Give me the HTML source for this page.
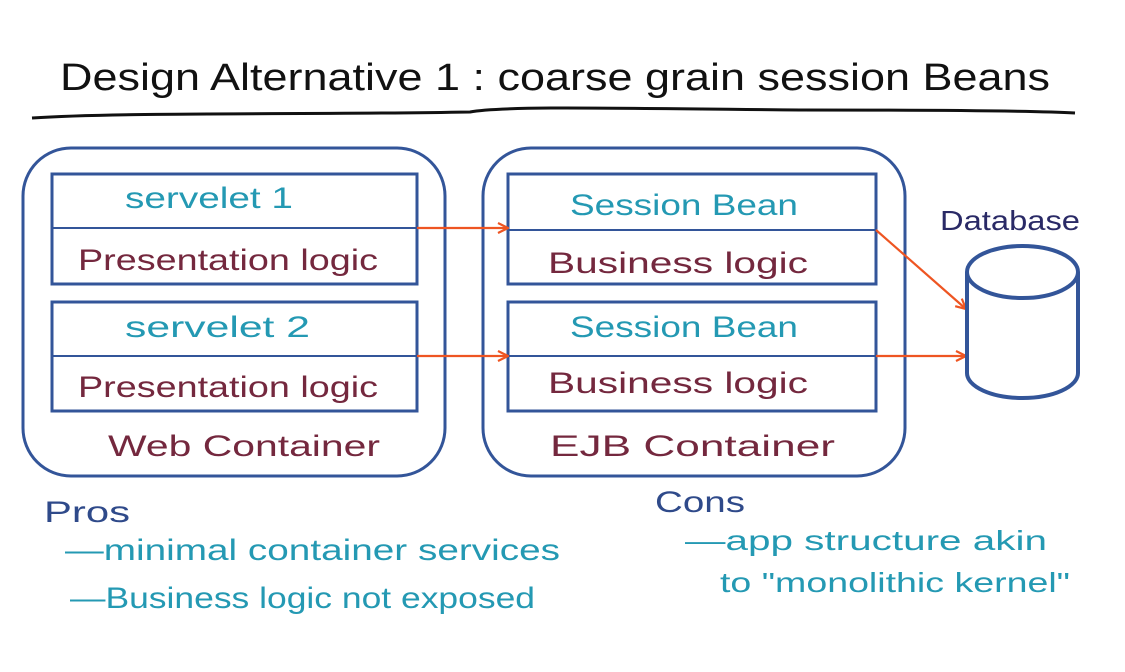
<!DOCTYPE html>
<html><head><meta charset="utf-8"><style>
html,body{margin:0;padding:0;background:#fff;}
svg{display:block;}
text{font-family:"Liberation Sans",sans-serif;}
</style></head><body>
<svg width="1125" height="672" viewBox="0 0 1125 672" xmlns="http://www.w3.org/2000/svg">
<defs>
<marker id="ah" viewBox="0 0 12 12" refX="11" refY="6" markerWidth="12" markerHeight="12" markerUnits="userSpaceOnUse" orient="auto">
<path d="M1,1 L11,6 L1,11" fill="none" stroke="#ee5522" stroke-width="2.2"/>
</marker>
</defs>
<!-- title -->
<text x="60" y="90" font-size="38" fill="#111" textLength="990" lengthAdjust="spacingAndGlyphs">Design Alternative 1 : coarse grain session Beans</text>
<path d="M32,118 C120,112 300,115 470,112 C500,106 600,108 800,110 C950,110 1040,111 1075,113" fill="none" stroke="#111" stroke-width="3"/>

<!-- web container -->
<rect x="23" y="148" width="422" height="328" rx="48" fill="none" stroke="#335599" stroke-width="3"/>
<rect x="52" y="174" width="365" height="110" fill="none" stroke="#335599" stroke-width="3"/>
<line x1="52" y1="228" x2="417" y2="228" stroke="#335599" stroke-width="2"/>
<rect x="52" y="302" width="365" height="109" fill="none" stroke="#335599" stroke-width="3"/>
<line x1="52" y1="356" x2="417" y2="356" stroke="#335599" stroke-width="2"/>
<text x="125" y="208" font-size="30" fill="#2499b3" textLength="168" lengthAdjust="spacingAndGlyphs">servelet 1</text>
<text x="78" y="270" font-size="30" fill="#74283e" textLength="300" lengthAdjust="spacingAndGlyphs">Presentation logic</text>
<text x="125" y="337" font-size="30" fill="#2499b3" textLength="185" lengthAdjust="spacingAndGlyphs">servelet 2</text>
<text x="78" y="397" font-size="30" fill="#74283e" textLength="300" lengthAdjust="spacingAndGlyphs">Presentation logic</text>
<text x="108" y="456" font-size="30" fill="#74283e" textLength="272" lengthAdjust="spacingAndGlyphs">Web Container</text>

<!-- EJB container -->
<rect x="483" y="148" width="422" height="328" rx="48" fill="none" stroke="#335599" stroke-width="3"/>
<rect x="508" y="174" width="368" height="110" fill="none" stroke="#335599" stroke-width="3"/>
<line x1="508" y1="230" x2="876" y2="230" stroke="#335599" stroke-width="2"/>
<rect x="508" y="302" width="368" height="109" fill="none" stroke="#335599" stroke-width="3"/>
<line x1="508" y1="356" x2="876" y2="356" stroke="#335599" stroke-width="2"/>
<text x="570" y="215" font-size="30" fill="#2499b3" textLength="228" lengthAdjust="spacingAndGlyphs">Session Bean</text>
<text x="548" y="273" font-size="30" fill="#74283e" textLength="260" lengthAdjust="spacingAndGlyphs">Business logic</text>
<text x="570" y="337" font-size="30" fill="#2499b3" textLength="228" lengthAdjust="spacingAndGlyphs">Session Bean</text>
<text x="548" y="393" font-size="30" fill="#74283e" textLength="260" lengthAdjust="spacingAndGlyphs">Business logic</text>
<text x="550" y="456" font-size="30" fill="#74283e" textLength="285" lengthAdjust="spacingAndGlyphs">EJB Container</text>

<!-- arrows -->
<g stroke="#ee5522" stroke-width="2.2" fill="none" marker-end="url(#ah)">
<line x1="417" y1="228" x2="508" y2="228"/>
<line x1="417" y1="356" x2="508" y2="356"/>
<line x1="876" y1="230" x2="966" y2="309"/>
<line x1="876" y1="356" x2="966" y2="356"/>
</g>

<!-- database -->
<text x="940" y="230" font-size="28" fill="#2a2a66" textLength="140" lengthAdjust="spacingAndGlyphs">Database</text>
<path d="M967,272 L967,373 A55.5,25 0 0 0 1078,373 L1078,272" fill="none" stroke="#335599" stroke-width="4"/>
<ellipse cx="1022.5" cy="272" rx="55.5" ry="26" fill="none" stroke="#335599" stroke-width="4"/>

<!-- pros/cons -->
<text x="44" y="522" font-size="30" fill="#2f4a8a" textLength="86" lengthAdjust="spacingAndGlyphs">Pros</text>
<text x="65" y="560" font-size="30" fill="#2499b3" textLength="495" lengthAdjust="spacingAndGlyphs">—minimal container services</text>
<text x="70" y="608" font-size="30" fill="#2499b3" textLength="465" lengthAdjust="spacingAndGlyphs">—Business logic not exposed</text>
<text x="655" y="512" font-size="30" fill="#2f4a8a" textLength="90" lengthAdjust="spacingAndGlyphs">Cons</text>
<text x="685" y="550" font-size="28" fill="#2499b3" textLength="362" lengthAdjust="spacingAndGlyphs">—app structure akin</text>
<text x="720" y="592" font-size="28" fill="#2499b3" textLength="350" lengthAdjust="spacingAndGlyphs">to "monolithic kernel"</text>
</svg>
</body></html>
